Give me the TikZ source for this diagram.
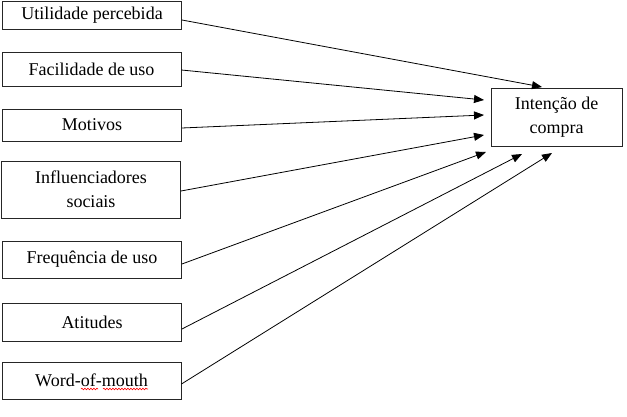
\documentclass[tikz,border=0pt]{standalone}
\usepackage{fontspec}
\setmainfont{Liberation Serif}
\usetikzlibrary{arrows.meta,decorations.pathmorphing}
\begin{document}
\begin{tikzpicture}[x=1pt,y=-1pt,
  box/.style={draw=black!85,line width=0.9pt,minimum width=179pt,inner sep=0pt,align=center,font=\fontsize{18}{24}\selectfont},
  conn/.style={line width=0.8pt,-{Triangle[length=10pt,width=8pt]}},
  squig/.style={draw=red,line width=0.6pt,decorate,decoration={snake,amplitude=0.8pt,segment length=3pt}}]
\useasboundingbox (0,0) rectangle (627,417);
\node[box,minimum height=28pt] (b1) at (92,15) {Utilidade percebida};
\node[box,minimum height=34pt] (b2) at (91.5,69) {Facilidade de uso};
\node[box,minimum height=32pt] (b3) at (92,125) {Motivos};
\node[box,minimum height=57pt] (b4) at (91,189.5) {Influenciadores\\sociais};
\node[box,minimum height=37pt] (b5) at (92,259.5) {Frequência de uso};
\node[box,minimum height=38pt] (b6) at (92,322) {Atitudes};
\node[box,minimum height=37pt] (b7) at (91.5,380.5) {Word-of-mouth};
\node[box,minimum width=131pt,minimum height=58pt] (t) at (556.5,117) {Intenção de\\compra};
\coordinate (e1) at (542,87);
\coordinate (e2) at (484,100);
\coordinate (e3) at (484,115);
\coordinate (e4) at (484,135);
\coordinate (e5) at (486,152);
\coordinate (e6) at (522,154);
\coordinate (e7) at (552,153);
\draw[conn] ([yshift=-5pt]b1.east) -- (e1);
\draw[conn] ([yshift=-1pt]b2.east) -- (e2);
\draw[conn] ([yshift=-3pt]b3.east) -- (e3);
\draw[conn] ([yshift=-1.5pt]b4.east) -- (e4);
\draw[conn] ([yshift=-4.5pt]b5.east) -- (e5);
\draw[conn] ([yshift=-7pt]b6.east) -- (e6);
\draw[conn] ([yshift=-3.5pt]b7.east) -- (e7);
\coordinate (s1a) at (81,389);
\coordinate (s1b) at (98,389);
\coordinate (s2a) at (103,389);
\coordinate (s2b) at (148,389);
\draw[squig] (s1a) -- (s1b);
\draw[squig] (s2a) -- (s2b);
\end{tikzpicture}
\end{document}
